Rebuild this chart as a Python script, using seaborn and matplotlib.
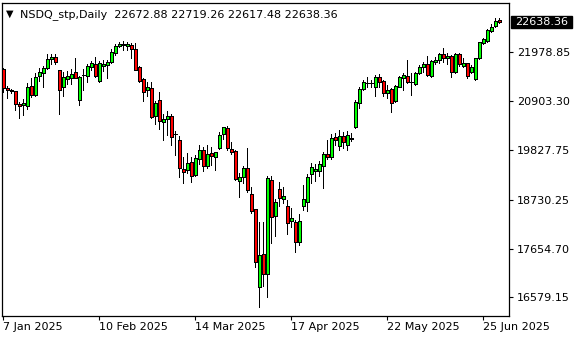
import numpy as np
import pandas as pd
import matplotlib
matplotlib.use("Agg")
import matplotlib.pyplot as plt
from matplotlib.patches import Rectangle
from matplotlib.transforms import blended_transform_factory
import seaborn as sns

# ---- data ----
symbol = "NSDQ_stp,Daily"
opens = [21605, 21187, 21121, 21121, 20835, 20813, 20791, 21231, 21033, 21451,
         21517, 21627, 21825, 21869, 21583, 21209, 21385, 21407, 21539, 20923,
         21470, 21451, 21649, 21715, 21341, 21671, 21693, 21759, 21957, 22111,
         22133, 22111, 22133, 22045, 21649, 21385, 21143, 21187, 20571, 20923,
         20439, 20505, 20571, 20170, 20043, 19405, 19383, 19559, 19273, 19625,
         19823, 19471, 19757, 19669, 19867, 20175, 20307, 19845, 19801, 19141,
         19229, 19427, 18855, 18525, 16809, 17535, 17095, 19163, 18371, 18965,
         18745, 18591, 18261, 18239, 17799, 18591, 18679, 19295, 19361, 19361,
         19471, 19735, 19669, 20109, 19911, 20131, 19933, 20065, 20329, 20857,
         21165, 21292, 21292, 21209, 21429, 21341, 21077, 21165, 20901, 21209,
         21407, 21451, 21314, 21275, 21517, 21649, 21715, 21451, 21759, 21803,
         21935, 21847, 21891, 21539, 21935, 21671, 21737, 21539, 21385, 21847,
         22177, 22221, 22441, 22551, 22672.88]
highs = [21627, 21231, 21165, 21130, 20879, 20945, 21297, 21407, 21517, 21627,
         21671, 21935, 21935, 21935, 21590, 21539, 21561, 21605, 21847, 21451,
         21605, 21715, 21781, 21869, 21781, 21803, 21803, 22045, 22155, 22199,
         22221, 22199, 22177, 22177, 21671, 21407, 21319, 21319, 20901, 21099,
         20615, 20681, 20615, 20241, 20131, 19669, 19757, 19669, 19713, 19933,
         19889, 19933, 19889, 19785, 20219, 20335, 20351, 19999, 19823, 19317,
         19471, 19867, 19009, 18530, 18239, 18239, 19251, 19251, 18745, 19119,
         19009, 18723, 18547, 18283, 18415, 19053, 19295, 19537, 19515, 19581,
         19779, 20043, 20175, 20197, 20263, 20219, 20241, 20197, 20923, 21209,
         21363, 21429, 21363, 21473, 21495, 21363, 21253, 21187, 21253, 21451,
         21517, 21803, 21517, 21539, 21693, 21759, 21891, 21803, 21869, 21957,
         22067, 21957, 21913, 21957, 21957, 21847, 21745, 21693, 21855, 22205,
         22287, 22485, 22595, 22727, 22719.26]
lows = [21099, 20967, 21077, 20703, 20527, 20593, 20725, 20989, 21011, 21341,
        21209, 21605, 21715, 21715, 20615, 21011, 21275, 21275, 21407, 20813,
        21143, 21319, 21583, 21429, 21319, 21561, 21407, 21737, 21913, 22089,
        22023, 22023, 21847, 21575, 21319, 20901, 21011, 20527, 20395, 20285,
        20043, 20153, 19933, 19713, 19229, 19097, 19317, 19119, 19251, 19515,
        19361, 19427, 19493, 19383, 19845, 20065, 19823, 19735, 19163, 18789,
        19097, 18899, 18437, 17249, 16375, 16831, 16589, 17777, 17931, 18591,
        18657, 17975, 18129, 17579, 17733, 18503, 18481, 19097, 19141, 19251,
        18987, 19625, 19625, 19933, 19823, 19867, 19823, 20021, 20307, 20747,
        21143, 21209, 21209, 21011, 21209, 21011, 20967, 20659, 20879, 21200,
        21143, 21297, 21033, 21253, 21495, 21539, 21451, 21429, 21715, 21737,
        21759, 21715, 21429, 21517, 21671, 21649, 21407, 21517, 21363, 21825,
        22155, 22199, 22419, 22529, 22617.48]
closes = [21187, 21143, 21143, 20835, 20791, 20857, 21209, 21033, 21429, 21539,
          21627, 21825, 21869, 21759, 21143, 21429, 21451, 21495, 21407, 21429,
          21478, 21671, 21737, 21451, 21737, 21715, 21759, 21979, 22111, 22155,
          22155, 22155, 22045, 21583, 21341, 21099, 21209, 20549, 20857, 20461,
          20505, 20571, 20109, 20180, 19427, 19339, 19537, 19251, 19647, 19823,
          19471, 19735, 19691, 19779, 20153, 20329, 19867, 19779, 19185, 19229,
          19427, 18943, 18481, 17359, 17513, 17095, 19207, 18349, 18679, 18767,
          18811, 18217, 18327, 17799, 18261, 18745, 19229, 19449, 19405, 19515,
          19735, 19669, 20087, 20043, 20131, 19999, 20153, 20087, 20879, 21165,
          21319, 21302, 21302, 21429, 21319, 21077, 21143, 20857, 21231, 21429,
          21473, 21319, 21324, 21517, 21649, 21715, 21473, 21781, 21803, 21935,
          21847, 21891, 21539, 21935, 21715, 21737, 21451, 21649, 21847, 22199,
          22265, 22463, 22529, 22661, 22638.36]
tick_bars = [0, 24, 48, 72, 96, 120]
tick_labels = ["7 Jan 2025", "10 Feb 2025", "14 Mar 2025", "17 Apr 2025",
               "22 May 2025", "25 Jun 2025"]
price_ticks = [16579.15, 17654.70, 18730.25, 19827.75, 20903.30, 21978.85]

# ---- styling ----
sns.set_theme(style="white")
plt.rcParams["font.family"] = ["DejaVu Sans"]

df = pd.DataFrame({"open": opens, "high": highs, "low": lows, "close": closes})
df["bar"] = np.arange(len(df))
df["bull"] = df["close"] >= df["open"]

fig = plt.figure(figsize=(5.8, 3.4), dpi=100)
fig.patch.set_facecolor("white")
ax = fig.add_axes([2 / 580, 24 / 340, 507 / 580, 313 / 340])
ax.set_facecolor("white")

YMIN, YMAX = 16171, 23057
upp = (YMAX - YMIN) / 313.0          # price units per pixel

# wicks
ax.vlines(df["bar"], df["low"], df["high"], color="black", linewidth=0.6,
          zorder=2, antialiased=False)
# bodies
body_h = (df["close"] - df["open"]).abs()
body_b = np.minimum(df["open"], df["close"])
fill = np.where(body_h < 15, "black", np.where(df["bull"], "#00ff00", "#ff0000"))
ax.bar(df["bar"], body_h, bottom=body_b, width=0.75, color=fill,
       edgecolor="black", linewidth=0.6, zorder=3, antialiased=False)

ax.set_xlim(-0.25, 126.5)
ax.set_ylim(YMIN, YMAX)

# y axis on the right
ax.yaxis.tick_right()
ax.set_yticks(price_ticks, [f"{v:.2f}" for v in price_ticks])
ax.tick_params(axis="y", which="both", direction="out", length=3, width=0.8,
               pad=2.5, labelsize=8, colors="black", right=True, left=False)
ax.set_xticks(tick_bars, tick_labels)
for lbl in ax.get_xticklabels():
    lbl.set_horizontalalignment("left")
ax.tick_params(axis="x", direction="out", length=3, width=0.8, pad=1.5,
               labelsize=8, colors="black", bottom=True, top=False)
for sp in ax.spines.values():
    sp.set_visible(True)
    sp.set_color("black")
    sp.set_linewidth(0.9)
ax.grid(False)

# last price box
last = closes[-1]
tr = blended_transform_factory(ax.transAxes, ax.transData)
ax.add_patch(Rectangle((1 + 2 / 507, last - 5.8 * upp), 61 / 507, 11.6 * upp,
                       transform=tr, facecolor="black", edgecolor="black",
                       clip_on=False, zorder=5))
ax.text(1 + 6 / 507, last, f"{last:.2f}", transform=tr, ha="left", va="center",
        color="white", fontsize=8, zorder=6, clip_on=False)

# header
fig.text(6 / 580, 1 - 16.5 / 340, "\u25BC", fontsize=7, color="black", va="baseline")
header = f"{symbol}  {opens[-1]:.2f} {highs[-1]:.2f} {lows[-1]:.2f} {closes[-1]:.2f}"
fig.text(20 / 580, 1 - 16.7 / 340, header, fontsize=8, color="black", va="baseline")

fig.savefig("out.png", dpi=100, facecolor="white")
